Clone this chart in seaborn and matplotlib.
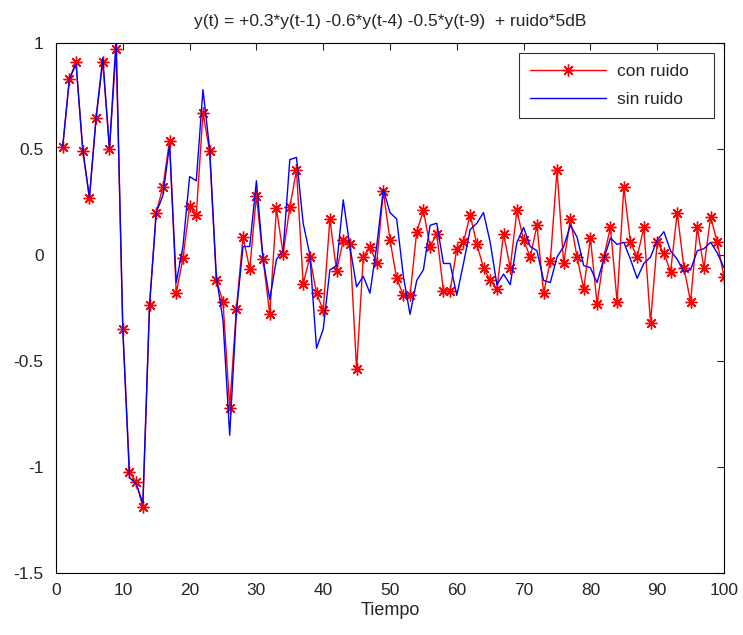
import numpy as np
import pandas as pd
import matplotlib
matplotlib.use('Agg')
import matplotlib.pyplot as plt
import seaborn as sns

# Time axis
tiempo = np.arange(1, 101)

# Signal with noise (red)
con_ruido = [0.51, 0.83, 0.91, 0.49, 0.27, 0.645, 0.91, 0.50, 0.97, -0.35,
             -1.025, -1.07, -1.19, -0.235, 0.20, 0.32, 0.54, -0.18, -0.015, 0.23,
             0.19, 0.67, 0.49, -0.12, -0.22, -0.72, -0.255, 0.085, -0.066, 0.28,
             -0.02, -0.28, 0.22, 0.005, 0.225, 0.40, -0.135, -0.01, -0.18, -0.26,
             0.17, -0.075, 0.07, 0.05, -0.54, -0.01, 0.04, -0.04, 0.30, 0.07,
             -0.11, -0.19, -0.19, 0.11, 0.21, 0.04, 0.10, -0.17, -0.17, 0.03,
             0.06, 0.19, 0.05, -0.06, -0.12, -0.16, 0.10, -0.06, 0.21, 0.07,
             -0.01, 0.14, -0.18, -0.03, 0.40, -0.04, 0.17, -0.01, -0.16, 0.08,
             -0.23, -0.01, 0.13, -0.22, 0.32, 0.06, -0.01, 0.13, -0.32, 0.06,
             0.01, -0.08, 0.20, -0.06, -0.22, 0.13, -0.06, 0.18, 0.06, -0.105]

# Signal without noise (blue)
sin_ruido = [0.51, 0.83, 0.90, 0.50, 0.27, 0.65, 0.93, 0.50, 1.02, -0.35,
             -1.05, -1.08, -1.17, -0.24, 0.20, 0.28, 0.52, -0.13, 0.04, 0.37,
             0.35, 0.78, 0.50, -0.10, -0.31, -0.85, -0.27, 0.04, 0.04, 0.35,
             -0.02, -0.21, -0.02, 0.02, 0.45, 0.46, 0.15, 0.00, -0.44, -0.35,
             -0.07, -0.05, 0.26, 0.04, -0.15, -0.10, -0.18, 0.04, 0.31, 0.20,
             0.17, -0.10, -0.28, -0.12, -0.07, 0.14, 0.15, -0.04, -0.04, -0.19,
             -0.04, 0.12, 0.15, 0.20, 0.06, -0.14, -0.09, -0.14, 0.06, 0.13,
             0.04, 0.02, -0.12, -0.13, -0.01, 0.04, 0.14, 0.085, -0.05, -0.06,
             -0.13, -0.02, 0.08, 0.05, 0.06, -0.02, -0.11, -0.04, -0.01, 0.07,
             0.11, 0.02, -0.02, -0.08, -0.07, 0.02, 0.03, 0.06, 0.01, -0.06]

xticks = np.arange(0, 101, 10)
yticks = [-1.5, -1, -0.5, 0, 0.5, 1]
ytick_labels = ['-1.5', '-1', '-0.5', '0', '0.5', '1']

sns.set_style('white')
plt.rcParams['font.family'] = ['Liberation Sans', 'DejaVu Sans']
plt.rcParams['font.size'] = 12.5

fig = plt.figure(figsize=(7.43, 6.35), dpi=100)
ax = fig.add_axes([0.0754, 0.0976, 0.899, 0.8347])

sns.lineplot(x=tiempo, y=con_ruido, ax=ax, color='red', linewidth=1,
             marker=(8, 2, 0), markersize=8.5, markeredgewidth=1,
             markeredgecolor='red', label='con ruido   ')
sns.lineplot(x=tiempo, y=sin_ruido, ax=ax, color='blue', linewidth=1,
             label='sin ruido   ')

ax.set_xlim(0, 100)
ax.set_ylim(-1.5, 1)
ax.set_xticks(xticks)
ax.set_yticks(yticks)
ax.set_yticklabels(ytick_labels)
ax.tick_params(direction='in', top=True, right=True, length=5, labelsize=12.5)
ax.tick_params(axis='x', pad=7)
ax.tick_params(axis='y', pad=9)
for s in ax.spines.values():
    s.set_color('black')
    s.set_linewidth(0.8)

ax.set_xlabel('Tiempo', fontsize=13, labelpad=3)
ax.set_ylabel('')
ax.set_title('y(t) = +0.3*y(t-1) -0.6*y(t-4) -0.5*y(t-9)  + ruido*5dB',
             fontsize=12.5, pad=12)

leg = ax.legend(loc='upper right', fancybox=False, edgecolor='black',
                fontsize=12.5, handlelength=4.4, handletextpad=0.6,
                labelspacing=0.75, borderpad=0.6, borderaxespad=0.6)
leg.get_frame().set_linewidth(0.8)

fig.savefig('out.png', dpi=100, facecolor='white')
